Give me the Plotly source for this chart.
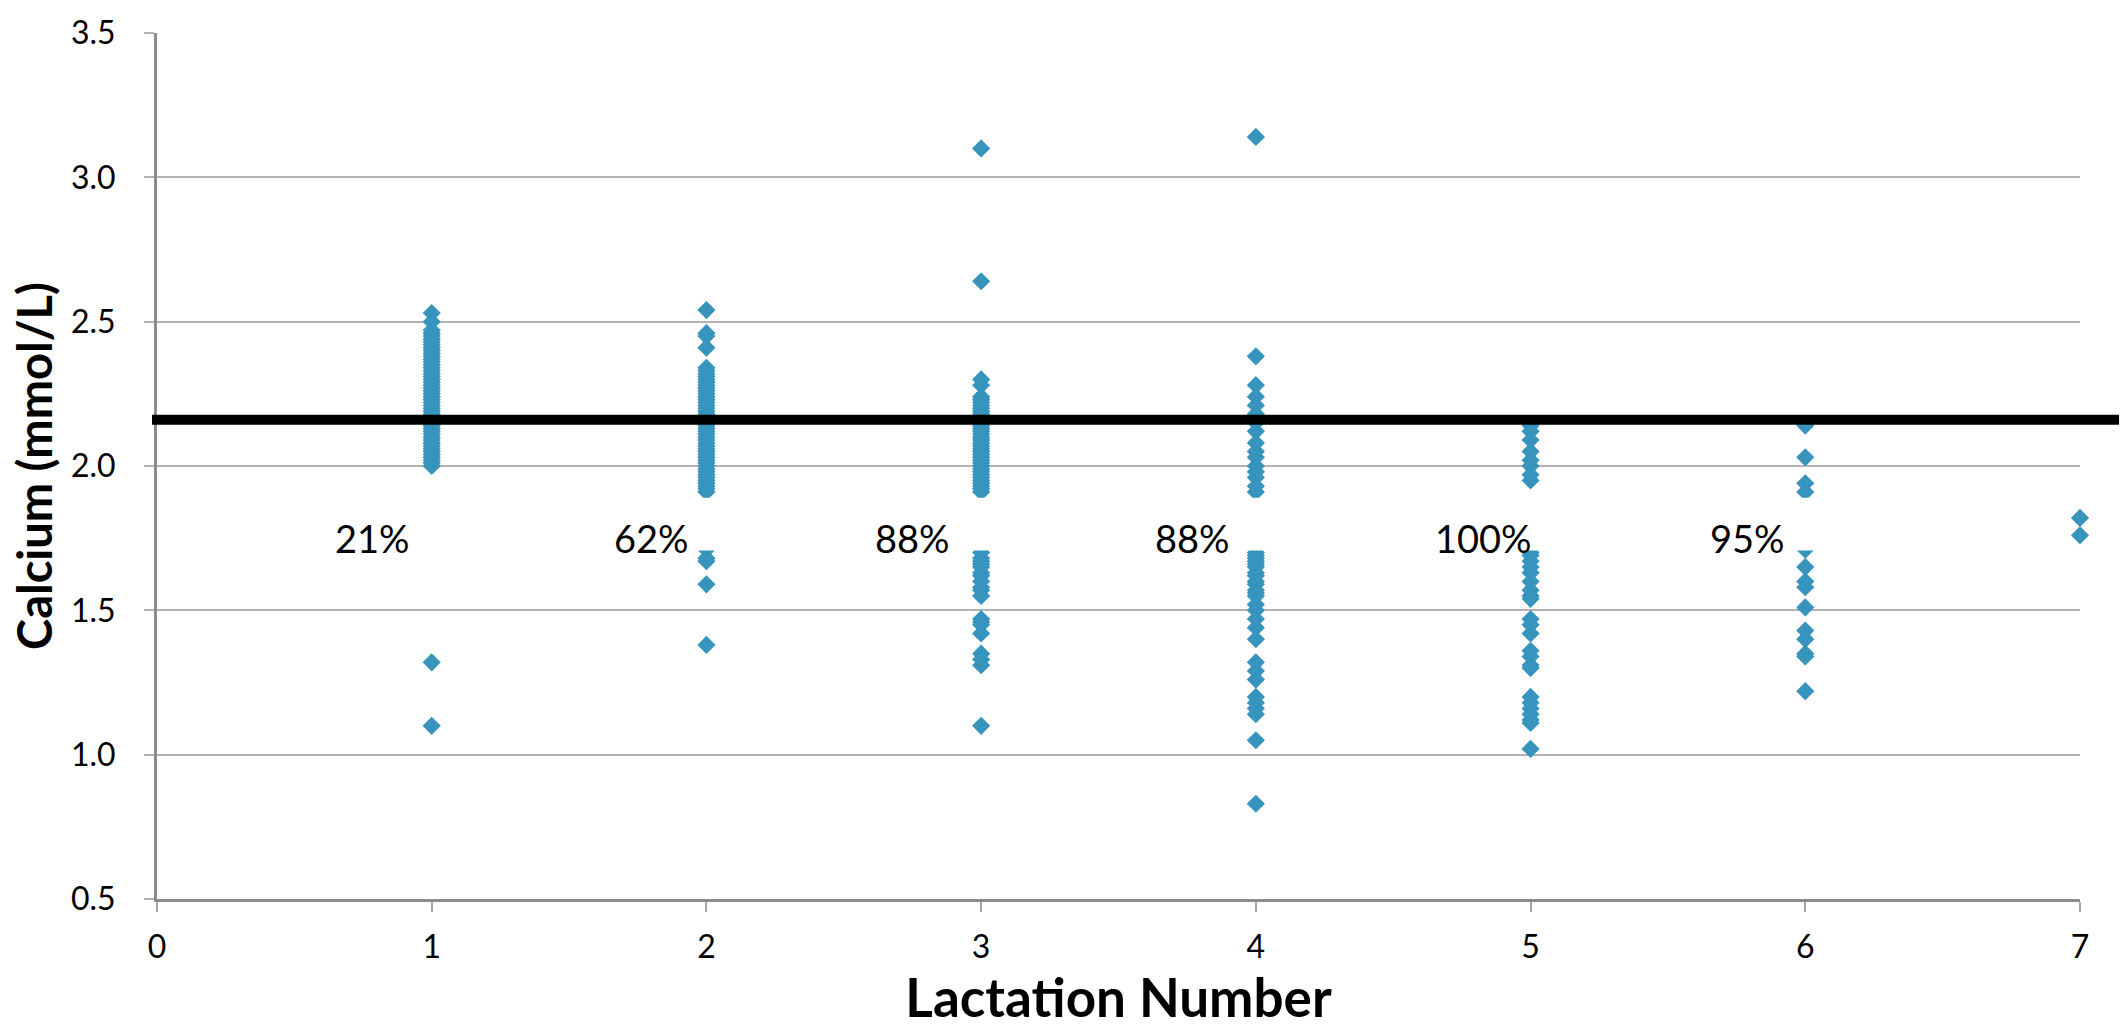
import plotly.graph_objects as go

# ---- data ----
lact1 = [2.53, 2.50, 2.47, 2.46, 2.45, 2.44, 2.43, 2.42, 2.41, 2.40, 2.39, 2.38, 2.37,
         2.36, 2.35, 2.34, 2.33, 2.32, 2.31, 2.30, 2.29, 2.28, 2.27, 2.26, 2.25, 2.24,
         2.23, 2.22, 2.21, 2.20, 2.19, 2.18, 2.17, 2.16, 2.15, 2.14, 2.13, 2.12, 2.11,
         2.10, 2.09, 2.08, 2.07, 2.06, 2.05, 2.04, 2.03, 2.02, 2.01, 2.00, 1.32, 1.10]
lact2 = [2.54, 2.46, 2.45, 2.41, 2.34, 2.33, 2.32, 2.31, 2.30, 2.29, 2.28, 2.27, 2.26,
         2.25, 2.24, 2.23, 2.22, 2.21, 2.20, 2.19, 2.18, 2.17, 2.16, 2.15, 2.14, 2.13,
         2.12, 2.11, 2.10, 2.09, 2.08, 2.07, 2.06, 2.05, 2.04, 2.03, 2.02, 2.01, 2.00,
         1.99, 1.98, 1.97, 1.96, 1.95, 1.94, 1.93, 1.92, 1.91, 1.71, 1.68, 1.67, 1.59, 1.38]
lact3 = [3.10, 2.64, 2.30, 2.28, 2.24, 2.23, 2.22, 2.21, 2.20, 2.19, 2.18, 2.17, 2.16,
         2.15, 2.14, 2.13, 2.12, 2.11, 2.10, 2.09, 2.08, 2.07, 2.06, 2.05, 2.04, 2.03,
         2.02, 2.01, 2.00, 1.99, 1.98, 1.97, 1.96, 1.95, 1.94, 1.93, 1.92, 1.91,
         1.70, 1.68, 1.67, 1.66, 1.65, 1.63, 1.62, 1.60, 1.58, 1.57, 1.55,
         1.47, 1.46, 1.45, 1.42, 1.35, 1.33, 1.31, 1.10]
lact4 = [3.14, 2.38, 2.28, 2.24, 2.21, 2.18, 2.15, 2.12, 2.08, 2.05, 2.03, 2.00, 1.98,
         1.96, 1.93, 1.91, 1.70, 1.69, 1.68, 1.67, 1.66, 1.65, 1.63, 1.62, 1.60, 1.59,
         1.57, 1.56, 1.55, 1.52, 1.50, 1.47, 1.44, 1.40, 1.32, 1.29, 1.26, 1.20, 1.18,
         1.16, 1.14, 1.05, 0.83]
lact5 = [2.14, 2.12, 2.09, 2.05, 2.02, 2.00, 1.97, 1.95, 1.70, 1.69, 1.67, 1.65, 1.63,
         1.60, 1.57, 1.55, 1.54, 1.47, 1.45, 1.42, 1.36, 1.34, 1.31, 1.30, 1.20, 1.18,
         1.16, 1.14, 1.12, 1.11, 1.02]
lact6 = [2.14, 2.03, 1.94, 1.91, 1.71, 1.65, 1.60, 1.58, 1.51, 1.43, 1.40, 1.35, 1.34, 1.22]
lact7 = [1.82, 1.76]

lactation_numbers = [1, 2, 3, 4, 5, 6, 7]
calcium_by_lactation = [lact1, lact2, lact3, lact4, lact5, lact6, lact7]

threshold = 2.16

pct_lactation = [1, 2, 3, 4, 5, 6]
pct_labels = ["21%", "62%", "88%", "88%", "100%", "95%"]
pct_offsets = [-0.214, -0.20, -0.25, -0.23, -0.17, -0.21]

x_ticks = [0, 1, 2, 3, 4, 5, 6, 7]
y_ticks = [0.5, 1.0, 1.5, 2.0, 2.5, 3.0, 3.5]

# ---- build figure ----
xs, ys = [], []
for n, vals in zip(lactation_numbers, calcium_by_lactation):
    xs += [n] * len(vals)
    ys += vals

FONT = "Lato, 'Open Sans', sans-serif"
fig = go.Figure()
fig.add_trace(go.Scatter(
    x=xs, y=ys, mode="markers",
    marker=dict(symbol="diamond", size=14, color="#3694bd", line=dict(width=0)),
    cliponaxis=False, showlegend=False, hoverinfo="x+y"))

shapes = []
annotations = []
for n, lab, off in zip(pct_lactation, pct_labels, pct_offsets):
    shapes.append(dict(type="rect", xref="x", yref="y", x0=n - 0.45, x1=n + 0.06,
                       y0=1.707, y1=1.89, fillcolor="white", line=dict(width=0),
                       layer="above"))
    annotations.append(dict(x=n + off, y=1.752, xref="x", yref="y", text=lab,
                            showarrow=False, font=dict(family=FONT, size=38, color="black")))

shapes.append(dict(type="line", xref="paper", yref="y", x0=-0.0026, x1=1.0203,
                   y0=threshold, y1=threshold, line=dict(color="black", width=10),
                   layer="above"))

fig.update_layout(
    width=2126, height=1031,
    margin=dict(l=157, r=46, t=28, b=131),
    paper_bgcolor="white", plot_bgcolor="white",
    font=dict(family=FONT, color="black"),
    shapes=shapes, annotations=annotations,
    xaxis=dict(range=[0, 7], tickvals=x_ticks, showgrid=False, zeroline=False,
               showline=True, linecolor="#8c8c8c", linewidth=3,
               ticks="outside", ticklen=10, tickwidth=1.5, tickcolor="#a6a6a6",
               tickfont=dict(family=FONT, size=32), ticklabelstandoff=8,
               title=dict(text="Lactation Number", standoff=16,
                          font=dict(family=FONT, size=53, weight="bold"))),
    yaxis=dict(range=[0.5, 3.5], tickvals=y_ticks, tickformat=".1f",
               showgrid=True, gridcolor="#b3b3b3", gridwidth=1.5, zeroline=False,
               showline=True, linecolor="#8c8c8c", linewidth=3,
               ticks="outside", ticklen=10, tickwidth=1.5, tickcolor="#b3b3b3",
               tickfont=dict(family=FONT, size=32), ticklabelstandoff=22,
               title=dict(text="Calcium (mmol/L)", standoff=4,
                          font=dict(family=FONT, size=47, weight="bold"))),
)

fig.write_html("out.html")
